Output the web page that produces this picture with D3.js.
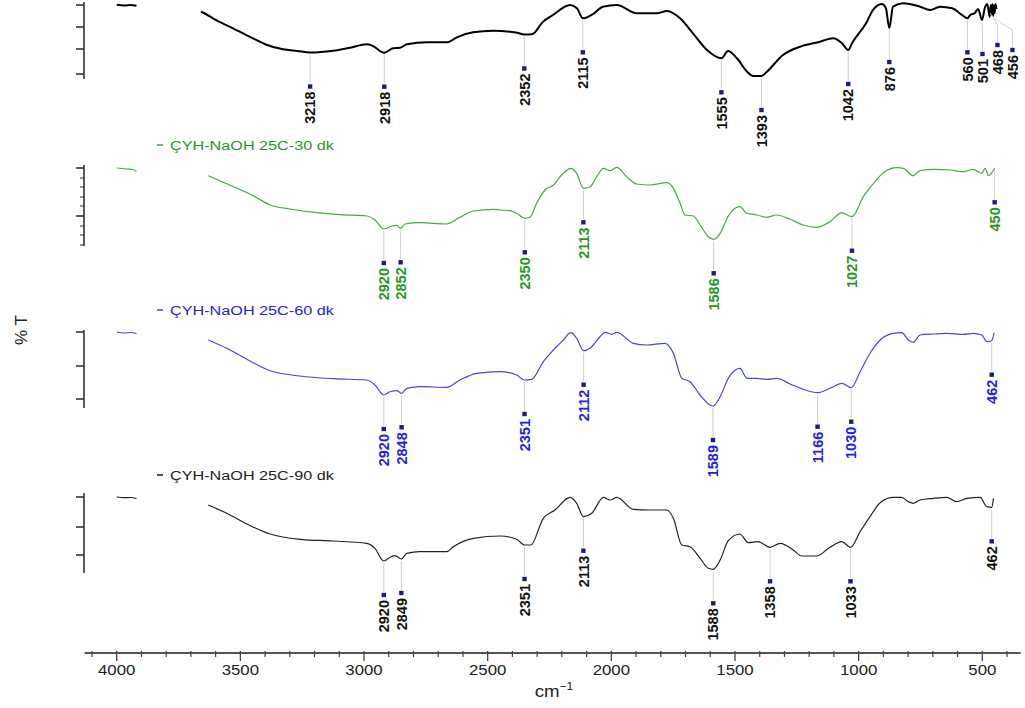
<!DOCTYPE html>
<html><head><meta charset="utf-8">
<script src="https://cdn.jsdelivr.net/npm/d3@7"></script>
<style>body{margin:0;background:#fff}svg{display:block}</style>
</head><body>
<script>
// ---------- data ----------
const xMajorTicks = [4000,3500,3000,2500,2000,1500,1000,500];
const xMinorTicks = [4100,3900,3800,3700,3600,3400,3300,3200,3100,2900,2800,2700,2600,2400,2300,2200,2100,1900,1800,1700,1600,1400,1300,1200,1100,900,800,700,600,400];
const seriesNames = ["", "ÇYH-NaOH 25C-30 dk", "ÇYH-NaOH 25C-60 dk", "ÇYH-NaOH 25C-90 dk"];

const s1Head = [[4000,100.3],[3970,99.6],[3945,100],[3920,99.2]];
const s1 = [[3659,93.3],[3640,91],[3611,86.7],[3530,76.7],[3449,66.7],[3392,60],[3328,55.7],[3270,54],[3218,52.5],[3125,54.3],[3057,57.3],[2988,60.7],[2964,59],[2918,52.3],[2883,56.7],[2854,57.3],[2826,60.7],[2745,62.7],[2664,62.7],[2624,67.7],[2559,72.7],[2478,74.3],[2409,73.3],[2381,72.3],[2352,70.5],[2321,70.7],[2276,83.3],[2236,90],[2167,100],[2139,96.7],[2115,86.7],[2074,91],[2034,98.3],[1978,100],[1897,91.7],[1816,91.7],[1775,94],[1722,86.7],[1670,71.7],[1613,55],[1555,46.7],[1528,54],[1492,46.7],[1451,33.3],[1427,29],[1393,29],[1371,33.3],[1306,50],[1237,58.3],[1156,63.3],[1103,66.7],[1067,61.7],[1042,55],[1027,61.7],[970,81.7],[942,95],[906,101],[890,97],[876,77],[861,98.3],[820,101.7],[752,98.3],[711,95],[671,98.3],[622,96.7],[582,90],[560,86.7],[549,90],[530,92],[517,96],[501,85],[490,97],[480,101],[470,88],[466,100],[462,90],[459,101],[456,89],[453,100],[450,92],[446,101],[443,96]];

const s2Head = [[4000,100],[3960,99],[3935,98.5],[3920,96.5]];
const s2 = [[3630,92.3],[3528,81.3],[3448,72.3],[3380,63],[3299,59],[3191,55.3],[3097,53.3],[2989,52],[2956,48],[2920,39],[2888,42],[2868,42.7],[2852,39.7],[2834,44],[2774,45.3],[2666,44],[2612,50.7],[2558,57],[2477,58.7],[2450,58],[2410,57.3],[2383,54.7],[2350,49.7],[2329,50.7],[2302,64.7],[2268,78],[2234,83],[2201,93],[2164,99.7],[2140,94.7],[2113,79.7],[2086,81.3],[2059,91.3],[2032,99.7],[2005,97.3],[1978,100.7],[1938,91.3],[1897,84],[1843,83],[1776,85.3],[1749,79.7],[1722,64.7],[1702,53],[1668,52],[1641,43],[1608,31.3],[1586,28.7],[1560,34.7],[1527,52],[1480,61.3],[1452,54.7],[1412,53],[1372,50.7],[1331,53],[1277,48.7],[1224,43],[1170,40.7],[1116,46.3],[1068,55.3],[1027,51.3],[981,71.3],[940,84.7],[900,95.3],[846,100.3],[819,99.7],[779,92.3],[752,97.3],[698,98.7],[630,98],[577,96.3],[536,98.7],[502,94.7],[489,99.7],[475,92.3],[450,99.7]];

const s3Head = [[4000,100],[3970,99],[3945,99.5],[3920,98.5]];
const s3 = [[3630,92],[3555,83.7],[3474,72.7],[3380,61.3],[3259,56],[3124,53.3],[2989,52],[2956,47],[2920,37],[2895,40.3],[2868,41.3],[2848,38.7],[2827,43.7],[2774,45.3],[2666,44.7],[2612,52],[2544,58.7],[2450,60.3],[2383,57],[2351,52],[2322,52.7],[2275,70.3],[2234,82],[2194,92],[2164,99.3],[2140,93.7],[2112,81.3],[2079,85.3],[2046,95.3],[2025,99.7],[1998,97.7],[1978,99.7],[1911,88.7],[1857,87],[1783,88.7],[1749,78.7],[1715,53.7],[1682,50.3],[1641,37],[1601,27],[1589,26],[1560,35.3],[1527,53.7],[1480,63.7],[1452,53.7],[1412,53.7],[1372,52.7],[1331,53.7],[1277,48],[1224,42.7],[1166,39.3],[1116,43.7],[1068,48.7],[1030,44.3],[994,60.3],[954,78.7],[913,92],[860,98.7],[826,99.3],[799,92],[779,89.7],[752,97],[698,98],[644,98.7],[577,97.7],[536,98.7],[502,97],[482,90.3],[462,91.3],[452,99.3]];

const s4Head = [[4000,100],[3970,99.3],[3945,99.5],[3920,98.5]];
const s4 = [[3630,92],[3555,83.7],[3474,73],[3380,63],[3259,57.7],[3124,56],[2989,53.7],[2956,48.7],[2920,36],[2895,39.7],[2875,41.3],[2849,38],[2827,43.7],[2774,45.3],[2666,45.3],[2639,50.3],[2558,58.7],[2450,61],[2383,57.7],[2351,52],[2326,52],[2275,78.7],[2228,87],[2167,99.7],[2140,93.7],[2113,80.3],[2079,83.7],[2032,99.7],[2005,97],[1978,99.7],[1911,87.7],[1843,87],[1776,87],[1749,78.7],[1715,52],[1682,50.3],[1641,38.7],[1608,28.7],[1588,27.7],[1560,37],[1527,56.3],[1480,63],[1446,54.3],[1406,55.3],[1358,49.7],[1317,53.7],[1264,47],[1230,41],[1170,41],[1116,49.7],[1068,55.3],[1033,49.7],[994,65.3],[954,80.3],[913,94.3],[860,99.7],[826,99.7],[799,95.3],[779,93.7],[752,97],[698,98.7],[644,99.7],[604,95.3],[563,98.7],[509,99.7],[482,90.3],[462,89.7],[455,98.7]];

const peaks1 = [3218,2918,2352,2115,1555,1393,1042,876,560,501,468,456];
const peaks2 = [2920,2852,2350,2113,1586,1027,450];
const peaks3 = [2920,2848,2351,2112,1589,1166,1030,462];
const peaks4 = [2920,2849,2351,2113,1588,1358,1033,462];

const yTicks1 = [100,78,56,31];
const yTicks2 = [100,90,81,71,62,52,42,33,23];
const yTicks3 = [100,66,33];
const yTicks4 = [100,70,42];

// ---------- layout / style ----------
const W = 1025, H = 708;
const panels = [
  {head:s1Head, data:s1, peaks:peaks1, ticks:yTicks1, major:[100,78,56,31], top:5,   axis:[103,26], line:"#000", text:"#111", sw:2.0, legendY:null},
  {head:s2Head, data:s2, peaks:peaks2, ticks:yTicks2, major:[100,52],       top:168, axis:[103,22], line:"#45a845", text:"#1f991f", sw:1.2, legendY:145},
  {head:s3Head, data:s3, peaks:peaks3, ticks:yTicks3, major:[100,66,33],    top:332, axis:[102,24], line:"#4747cc", text:"#2323dd", sw:1.2, legendY:310},
  {head:s4Head, data:s4, peaks:peaks4, ticks:yTicks4, major:[100,70,42],    top:497, axis:[104,24], line:"#222", text:"#111", sw:1.2, legendY:475}
];

const svg = d3.select("body").append("svg").attr("width", W).attr("height", H)
  .style("font-family", "'Liberation Sans', Arial, sans-serif");

const x = d3.scaleLinear().domain([4000, 500]).range([116.7, 982.3]);
const xDom = [4130, 345];

// X axis
const xAxisY = 653;
const gx = svg.append("g").attr("transform", `translate(0,${xAxisY})`);
gx.append("line").attr("x1", x(xDom[0])).attr("x2", x(xDom[1])).attr("stroke", "#555").attr("stroke-width", 2);
gx.selectAll(".mj").data(xMajorTicks).join("line")
  .attr("x1", d => x(d)).attr("x2", d => x(d)).attr("y1", -2).attr("y2", 8)
  .attr("stroke", "#444").attr("stroke-width", 1.3);
gx.selectAll(".mn").data(xMinorTicks).join("line")
  .attr("x1", d => x(d)).attr("x2", d => x(d)).attr("y1", -2).attr("y2", 4)
  .attr("stroke", "#444").attr("stroke-width", 1.2);
gx.selectAll(".tl").data(xMajorTicks).join("text")
  .attr("transform", d => `translate(${x(d)},22) scale(1.2,1)`)
  .attr("text-anchor", "middle").attr("font-size", 14).attr("fill", "#222")
  .text(d => d);

const xl = svg.append("text").attr("transform", "translate(554,697) scale(1.1,1)")
  .attr("text-anchor", "middle").attr("font-size", 17).attr("fill", "#222");
xl.append("tspan").text("cm");
xl.append("tspan").attr("font-size", 11).attr("dy", -7).text("−1");

svg.append("text").attr("transform", "translate(27,330) rotate(-90)")
  .attr("text-anchor", "middle").attr("font-size", 17).attr("fill", "#222").text("% T");

function interp(data, w) {
  for (let i = 0; i < data.length - 1; i++) {
    const a = data[i], b = data[i + 1];
    if (w <= a[0] && w >= b[0]) {
      const t = (a[0] - w) / (a[0] - b[0] || 1);
      return a[1] + t * (b[1] - a[1]);
    }
  }
  return data[data.length - 1][1];
}

panels.forEach((p, pi) => {
  const y = d3.scaleLinear().domain([0, 100]).range([p.top + 100, p.top]);
  const g = svg.append("g");

  // y axis
  g.append("line").attr("x1", 84).attr("x2", 84).attr("y1", y(p.axis[0])).attr("y2", y(p.axis[1]))
    .attr("stroke", "#333").attr("stroke-width", 1.6);
  g.selectAll(".yt").data(p.ticks).join("line")
    .attr("x1", d => p.major.includes(d) ? 76 : 80).attr("x2", 84)
    .attr("y1", d => y(d)).attr("y2", d => y(d))
    .attr("stroke", "#333").attr("stroke-width", d => p.major.includes(d) ? 1.6 : 1);

  const line = d3.line().x(d => x(d[0])).y(d => y(d[1])).curve(d3.curveMonotoneX);
  [p.head, p.data].forEach(seg => {
    g.append("path").datum(seg).attr("d", line).attr("fill", "none")
      .attr("stroke", p.line).attr("stroke-width", p.sw).attr("stroke-linejoin", "round");
  });

  // legend
  if (p.legendY !== null) {
    g.append("line").attr("x1", 157).attr("x2", 163).attr("y1", p.legendY).attr("y2", p.legendY)
      .attr("stroke", p.line).attr("stroke-width", 1.6);
    g.append("text").attr("transform", `translate(170,${p.legendY + 5}) scale(1.2,1)`)
      .attr("font-size", 13.5).attr("fill", p.line === "#222" ? "#222" : p.text)
      .text(seriesNames[pi]);
  }

  // peak labels
  const items = p.peaks.map(w => ({w, xa: x(w), yc: y(interp(p.data, w))}))
    .sort((a, b) => a.xa - b.xa);
  let prev = -1e9;
  items.forEach(it => { it.xl = Math.max(it.xa, prev + 15); prev = it.xl; it.ym = it.yc + 34; });
  items.forEach(it => {
    const path = it.xl === it.xa
      ? `M${it.xa},${it.yc + 2}V${it.ym - 3}`
      : `M${it.xa},${it.yc + 2}L${it.xl},${it.yc + 14}V${it.ym - 3}`;
    g.append("path").attr("d", path).attr("fill", "none").attr("stroke", "#cfcfcf").attr("stroke-width", 1);
    g.append("rect").attr("x", it.xl - 2.2).attr("y", it.ym - 2.2).attr("width", 4.4).attr("height", 4.4)
      .attr("fill", "#1a1f70");
    g.append("text").attr("transform", `translate(${it.xl},${it.ym + 5}) rotate(-90)`)
      .attr("text-anchor", "end").attr("dy", "0.36em").attr("font-size", 14.5).attr("font-weight", "bold")
      .attr("fill", p.text).text(it.w);
  });
});
</script>
</body></html>
